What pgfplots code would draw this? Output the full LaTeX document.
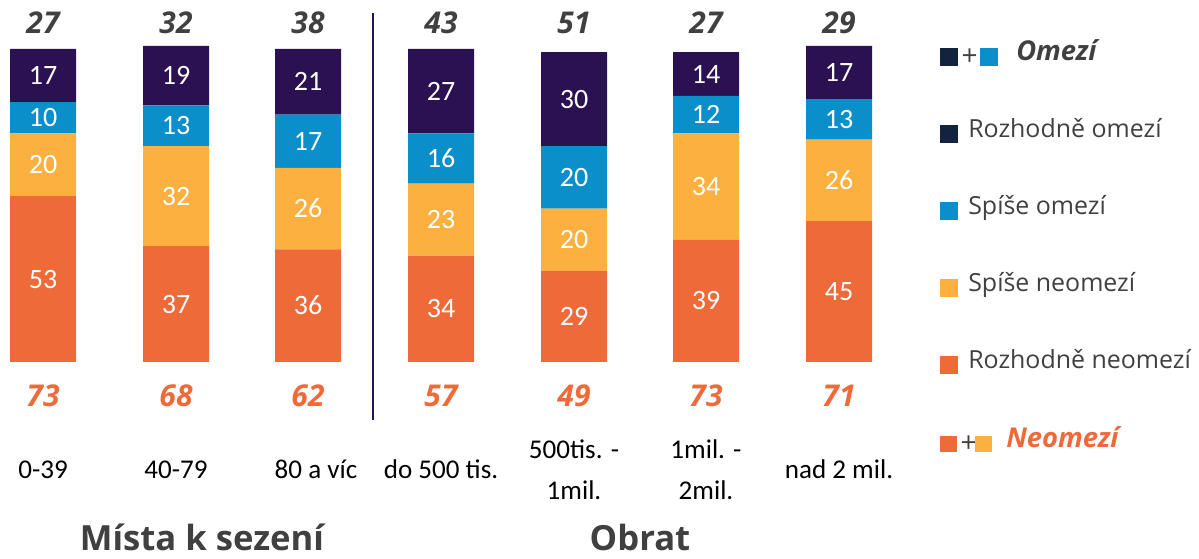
\documentclass[border=0pt]{standalone}
\usepackage{pgfplots}
\pgfplotsset{compat=1.18}
\usepackage{pgfplotstable}
\usepackage{fontspec}
\setmainfont{Carlito}
\newfontfamily\osans{Open Sans}
\definecolor{cRO}{HTML}{2B1052}
\definecolor{cSO}{HTML}{0A8FCB}
\definecolor{cSN}{HTML}{FBB040}
\definecolor{cRN}{HTML}{EE6A38}
\definecolor{cLRO}{HTML}{13233F}
\definecolor{cGrey}{HTML}{404040}

\pgfplotstableread{
x   rn sn so ro
43  53 20 10 17
176 37 32 13 19
308 36 26 17 21
441 34 23 16 27
574 29 20 20 30
706 39 34 12 14
839 45 26 13 17
}\bars

\pgfplotstableread{
x   y     l
43  26.5  53
43  63    20
43  78    10
43  91.5  17
176 18.5  37
176 53    32
176 75.5  13
176 91.5  19
308 18    36
308 49    26
308 70.5  17
308 89.5  21
441 17    34
441 45.5  23
441 65    16
441 86.5  27
574 14.5  29
574 39    20
574 59    20
574 84    30
706 19.5  39
706 56    34
706 79    12
706 92    14
839 22.5  45
839 58    26
839 77.5  13
839 92.5  17
}\inner

\pgfplotstableread{
x   y     l
43  108.3 27
176 108.3 32
308 108.3 38
441 108.3 43
574 108.3 51
706 108.3 27
839 108.3 29
}\tops

\pgfplotstableread{
x   y     l
43  -10.8 73
176 -10.8 68
308 -10.8 62
441 -10.8 57
574 -10.8 49
706 -10.8 73
839 -10.8 71
}\bottoms

\begin{document}
\begin{tikzpicture}
\pgfplotsset{base/.style={
  scale only axis, width=899.25pt, height=419.25pt,
  xmin=0, xmax=1199, ymin=-62.94, ymax=115.65,
  hide axis, clip=false}}
\begin{axis}[base, ybar stacked, bar width=66]
\addplot[fill=cRN, draw=none] table[x=x,y=rn] {\bars};
\addplot[fill=cSN, draw=none] table[x=x,y=sn] {\bars};
\addplot[fill=cSO, draw=none] table[x=x,y=so] {\bars};
\addplot[fill=cRO, draw=none] table[x=x,y=ro] {\bars};
\end{axis}
\begin{axis}[base]
\addplot[draw=none, nodes near coords, point meta=explicit symbolic,
  every node near coord/.style={anchor=center, text=white, inner sep=0pt,
    font=\fontsize{21}{24}\selectfont}]
  table[x=x,y=y,meta=l] {\inner};
\addplot[draw=none, nodes near coords, point meta=explicit symbolic,
  every node near coord/.style={anchor=center, text=cGrey, inner sep=0pt,
    font=\osans\bfseries\itshape\fontsize{22.5}{26}\selectfont}]
  table[x=x,y=y,meta=l] {\tops};
\addplot[draw=none, nodes near coords, point meta=explicit symbolic,
  every node near coord/.style={anchor=center, text=cRN, inner sep=0pt,
    font=\osans\bfseries\itshape\fontsize{22.5}{26}\selectfont}]
  table[x=x,y=y,meta=l] {\bottoms};

% separator
\draw[cRO, line width=1.5pt] (axis cs:373,111.5) -- (axis cs:373,-18.5);

% category labels
\begin{scope}[every node/.style={anchor=center, align=center, inner sep=0pt,
    font=\fontsize{20.3}{30.5}\selectfont, text=black}]
\node at (axis cs:43,-34.4) {0-39};
\node at (axis cs:176,-34.4) {40-79};
\node at (axis cs:316,-34.4) {80 a víc};
\node at (axis cs:441,-34.4) {do 500 tis.};
\node at (axis cs:574,-34.4) {500tis. -\\1mil.};
\node at (axis cs:706,-34.4) {1mil. -\\2mil.};
\node at (axis cs:839,-34.4) {nad 2 mil.};
\end{scope}

% group titles
\node[anchor=base, inner sep=0pt, text=cGrey, font=\osans\bfseries\fontsize{26}{30}\selectfont]
  at (axis cs:202,-60.3) {Místa k sezení};
\node[anchor=base, inner sep=0pt, text=cGrey, font=\osans\bfseries\fontsize{26}{30}\selectfont]
  at (axis cs:640,-60.3) {Obrat};

% legend
\begin{scope}[sq/.style={anchor=west, minimum size=13.5pt, inner sep=0pt, draw=none},
  lt/.style={anchor=mid west, inner sep=0pt, text=cGrey, font=\osans\fontsize{18.7}{22}\selectfont}]
\node[sq, fill=cLRO] at (axis cs:940,97.4) {};
\node[anchor=center, inner sep=0pt, text=cGrey, font=\osans\fontsize{21}{24}\selectfont] at (axis cs:969.5,97.4) {+};
\node[sq, fill=cSO] at (axis cs:980,97.4) {};
\node[anchor=mid west, inner sep=0pt, text=cGrey, font=\osans\bfseries\itshape\fontsize{20.5}{24}\selectfont] at (axis cs:1016,97.4) {Omezí};

\node[sq, fill=cLRO] at (axis cs:940,72.8) {};
\node[lt] at (axis cs:968,72.8) {Rozhodně omezí};
\node[sq, fill=cSO] at (axis cs:940,48.1) {};
\node[lt] at (axis cs:968,48.1) {Spíše omezí};
\node[sq, fill=cSN] at (axis cs:940,23.6) {};
\node[lt] at (axis cs:968,23.6) {Spíše neomezí};
\node[sq, fill=cRN] at (axis cs:940,-1.0) {};
\node[lt] at (axis cs:968,-1.0) {Rozhodně neomezí};

\node[sq, fill=cRN, minimum size=12.5pt] at (axis cs:940,-26.2) {};
\node[anchor=center, inner sep=0pt, text=cGrey, font=\osans\fontsize{21}{24}\selectfont] at (axis cs:968.5,-26.2) {+};
\node[sq, fill=cSN, minimum size=12.5pt] at (axis cs:975,-26.2) {};
\node[anchor=mid west, inner sep=0pt, text=cRN, font=\osans\bfseries\itshape\fontsize{20.5}{24}\selectfont] at (axis cs:1006,-26.2) {Neomezí};
\end{scope}
\end{axis}
\pgfresetboundingbox
\path (0,0) rectangle (899.25pt,419.25pt);
\end{tikzpicture}
\end{document}
